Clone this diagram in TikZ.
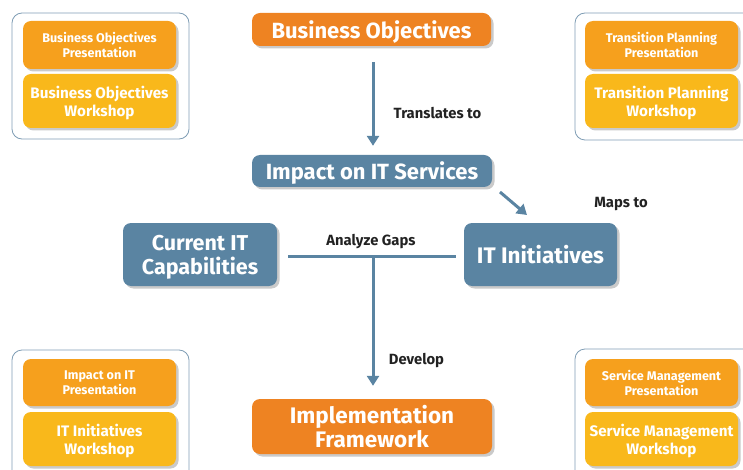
\documentclass[tikz,border=0pt]{standalone}
\usepackage{fontspec}
\setmainfont{Fira Sans}
\usetikzlibrary{positioning}
\usetikzlibrary{shadows}
\usetikzlibrary{arrows.meta}
\definecolor{bizorange}{HTML}{EE8322}
\definecolor{presorange}{HTML}{F6A01D}
\definecolor{wsyellow}{HTML}{F9B81B}
\definecolor{itblue}{HTML}{5A84A2}
\definecolor{framegray}{HTML}{7F9DB4}
\definecolor{lbltext}{HTML}{222222}

\tikzset{
  boxshadow/.style={drop shadow={shadow xshift=2.5pt,shadow yshift=-2.5pt,opacity=.35,fill=black!60}},
  mainbox/.style={rounded corners=8pt, text=white, align=center, inner sep=0pt, text depth=0pt, boxshadow},
  orangebox/.style={mainbox, fill=bizorange},
  bluebox/.style={mainbox, fill=itblue},
  presbox/.style={mainbox, fill=presorange, minimum width=153pt,
    font=\fontsize{12.6}{15}\selectfont\bfseries},
  wsbox/.style={mainbox, fill=wsyellow, minimum width=153pt, minimum height=54pt,
    font=\fontsize{15.2}{18}\selectfont\bfseries},
  frame/.style={draw=framegray, line width=.8pt, rounded corners=10pt},
  flow/.style={draw=itblue, line width=3pt, -{Triangle[length=10pt,width=12pt]}},
  gapline/.style={draw=itblue, line width=3pt},
  lbl/.style={text=lbltext, text depth=0pt, font=\fontsize{14.8}{16}\selectfont\bfseries}
}

\begin{document}
\begin{tikzpicture}[x=1pt,y=-1pt]
\useasboundingbox (0,0) rectangle (743,470);
\clip (0,0) rectangle (743,470);

% workshop frames
\draw[frame] (12,13) rectangle (189,139);
\draw[frame] (575,13) rectangle (770,140);
\draw[frame] (12,350) rectangle (189,500);
\draw[frame] (575,349) rectangle (770,500);

% upper left
\node[presbox, minimum height=48pt] (bopres) at (99.5,45) {Business Objectives\\Presentation};
\node[wsbox] (bows) at (99.5,101) {Business Objectives\\Workshop};
% upper right
\node[presbox, minimum height=48pt] (tppres) at (661.5,45) {Transition Planning\\Presentation};
\node[wsbox] (tpws) at (661.5,101) {Transition Planning\\Workshop};
% lower left
\node[presbox, minimum height=47pt] (impres) at (99.5,382.5) {Impact on IT\\Presentation};
\node[wsbox] (itiws) at (99.5,439) {IT Initiatives\\Workshop};
% lower right
\node[presbox, minimum height=47pt] (smpres) at (661.5,382.5) {Service Management\\Presentation};
\node[wsbox] (smws) at (661.5,439) {Service Management\\Workshop};

% main flow
\node[orangebox, minimum width=239pt, minimum height=33pt,
  font=\fontsize{22}{24}\selectfont\bfseries] (bizobj) at (371.5,29.5) {Business Objectives};
\node[bluebox, minimum width=240pt, minimum height=32pt,
  font=\fontsize{22}{24}\selectfont\bfseries] (impact) at (372,171) {Impact on IT Services};
\node[bluebox, minimum width=154pt, minimum height=63pt,
  font=\fontsize{21.5}{24}\selectfont\bfseries] (curcap) at (200,254.5) {Current IT\\Capabilities};
\node[bluebox, minimum width=153pt, minimum height=63pt,
  font=\fontsize{22.5}{24}\selectfont\bfseries] (itinit) at (540.5,254.5) {IT Initiatives};
\node[orangebox, minimum width=240pt, minimum height=55pt,
  font=\fontsize{22.5}{24}\selectfont\bfseries] (implfw) at (372,426.5) {Implementation\\Framework};

% connectors
\coordinate (mapsA) at (500,192);
\coordinate (mapsB) at (527,215);
\coordinate (gapmid) at (373,256);
\draw[flow, shorten <=16pt, shorten >=9pt] (bizobj.south -| gapmid) -- (impact.north -| gapmid);
\draw[flow] (mapsA) -- (mapsB);
\draw[gapline, shorten <=11pt, shorten >=8pt] (curcap.east |- gapmid) -- (itinit.west |- gapmid);
\draw[flow, shorten >=13pt] (gapmid) -- (implfw.north -| gapmid);

% labels
\node[lbl] (translbl) at (437.5,113) {Translates to};
\node[lbl] (mapslbl) at (621,202) {Maps to};
\node[lbl] (gapslbl) at (371,240) {Analyze Gaps};
\node[lbl] (devlbl) at (416.5,359) {Develop};
\end{tikzpicture}
\end{document}
